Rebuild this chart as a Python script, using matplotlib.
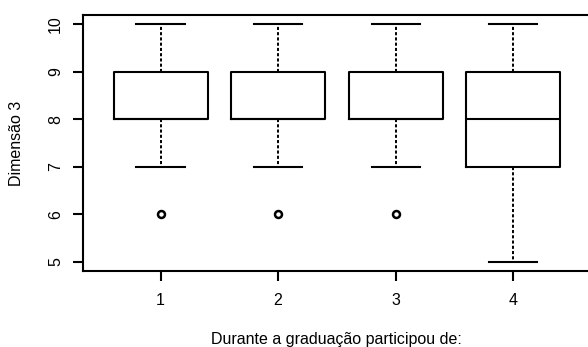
import matplotlib
matplotlib.use("Agg")
import matplotlib.pyplot as plt

plt.rcParams['font.family'] = ['Liberation Sans', 'DejaVu Sans']

# boxplot summary
groups = [1, 2, 3, 4]
whislo = [7, 7, 7, 5]
q1 = [8, 8, 8, 7]
med = [8, 8, 8, 8]
q3 = [9, 9, 9, 9]
whishi = [10, 10, 10, 10]
fliers = [[6], [6], [6], []]
yticks = [5, 6, 7, 8, 9, 10]

stats = []
for i in range(len(groups)):
    stats.append(dict(whislo=whislo[i], q1=q1[i], med=med[i], q3=q3[i],
                      whishi=whishi[i], fliers=fliers[i], label=str(groups[i])))

fig = plt.figure(figsize=(5.88, 3.47), dpi=100)
ax = fig.add_axes([0.1412, 0.2176, 0.8634, 0.7406])

ax.bxp(stats, positions=groups, widths=0.8, showfliers=True,
       boxprops=dict(color='black', lw=1.5),
       medianprops=dict(color='black', lw=1.5),
       whiskerprops=dict(color='black', lw=1.4, linestyle=(0, (1.6, 1.1))),
       capprops=dict(color='black', lw=1.5),
       capwidths=0.41,
       flierprops=dict(marker='o', markersize=5, markerfacecolor='none',
                       markeredgecolor='black', markeredgewidth=1.8))

ax.set_xlim(0.34, 4.66)
ax.set_ylim(4.8, 10.2)
ax.set_xticks(groups)
ax.set_xticklabels([str(g) for g in groups])
ax.set_yticks(yticks)
ax.set_yticklabels([str(t) for t in yticks], rotation=90, va='center')

for s in ax.spines.values():
    s.set_linewidth(1.5)
ax.tick_params(axis='both', length=7.5, width=1.5, labelsize=11.5, colors='black')
ax.tick_params(axis='x', pad=8)
ax.tick_params(axis='y', pad=7)

ax.set_ylabel('Dimensão 3', fontsize=11.5, labelpad=17)
ax.set_xlabel('Durante a graduação participou de:', fontsize=11.5, labelpad=17)

fig.savefig('out.png', dpi=100)
